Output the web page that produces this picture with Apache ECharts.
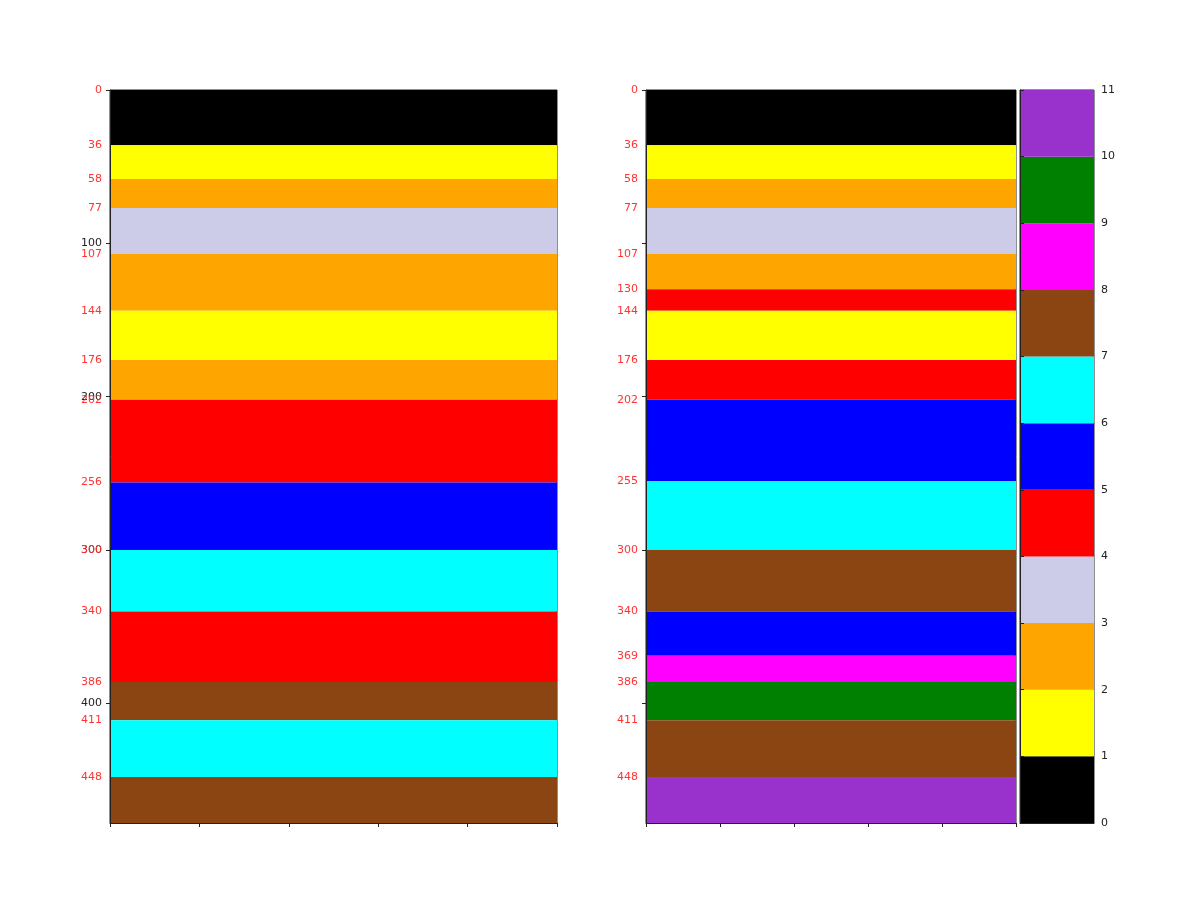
<!DOCTYPE html>
<html>
<head>
<meta charset="utf-8">
<script src="https://cdn.jsdelivr.net/npm/echarts@6/dist/echarts.min.js"></script>
<style>
  html, body { margin: 0; padding: 0; background: #fff; }
  #main { width: 1196px; height: 903px; }
</style>
</head>
<body>
<div id="main"></div>
<script>
// lithology colours, index = code on the colour bar
var codeColors = ['#000000', '#ffff00', '#ffa500', '#ccccE8', '#ff0000', '#0000ff',
                  '#00ffff', '#8b4513', '#ff00ff', '#008000', '#9932cc'];

// left log: layer boundaries (depth) and code of each layer
var leftDepths = [0, 36, 58, 77, 107, 144, 176, 202, 256, 300, 340, 386, 411, 448, 478];
var leftCodes = [0, 1, 2, 3, 2, 1, 2, 4, 5, 6, 4, 7, 6, 7];

// right log
var rightDepths = [0, 36, 58, 77, 107, 130, 144, 176, 202, 255, 300, 340, 369, 386, 411, 448, 478];
var rightCodes = [0, 1, 2, 3, 2, 4, 1, 4, 5, 6, 7, 5, 8, 9, 7, 10];

var maxDepth = 478;
var depthTicks = [0, 100, 200, 300, 400];
var depthTickLabels = [100, 200, 300, 400];

function layers(depths, codes) {
    var out = [];
    for (var i = 0; i < codes.length; i++) {
        out.push([depths[i], depths[i + 1], codes[i]]);
    }
    return out;
}

var colorbarData = [];
for (var i = 0; i < codeColors.length; i++) {
    colorbarData.push([i, i + 1, i]);
}

function renderBand(params, api) {
    var p1 = api.coord([0, api.value(0)]);
    var p2 = api.coord([5, api.value(1)]);
    var y = Math.min(p1[1], p2[1]);
    return {
        type: 'rect',
        shape: { x: p1[0], y: y, width: p2[0] - p1[0], height: Math.abs(p2[1] - p1[1]) },
        style: { fill: codeColors[api.value(2)] }
    };
}

var font = 'DejaVu Sans';
var spine = '#222';

function xAxisFor(gridIndex) {
    return {
        gridIndex: gridIndex, type: 'value', min: 0, max: 5, interval: 1,
        axisLine: { show: true, onZero: false, lineStyle: { color: spine } },
        axisTick: { show: gridIndex < 2, length: 4, lineStyle: { color: spine } },
        axisLabel: { show: false },
        splitLine: { show: false }
    };
}

function blackDepthAxis(gridIndex, showLabels) {
    return {
        gridIndex: gridIndex, type: 'value', inverse: true, min: 0, max: maxDepth,
        axisLine: { show: true, lineStyle: { color: spine } },
        axisTick: { show: true, length: 4, customValues: depthTicks, lineStyle: { color: spine } },
        axisLabel: { show: showLabels, customValues: depthTickLabels, color: '#222',
                     fontFamily: font, fontSize: 11, margin: 8 },
        splitLine: { show: false },
        z: 1
    };
}

function redDepthAxis(gridIndex, depths) {
    return {
        gridIndex: gridIndex, type: 'value', inverse: true, min: 0, max: maxDepth,
        position: 'left',
        axisLine: { show: false },
        axisTick: { show: false },
        axisLabel: { show: true, customValues: depths.slice(0, depths.length - 1), color: '#ff3333',
                     fontFamily: font, fontSize: 11, margin: 8 },
        splitLine: { show: false },
        z: 5
    };
}

var chart = echarts.init(document.getElementById('main'));

var option = {
    backgroundColor: '#fff',
    animation: false,
    grid: [
        { left: 110, top: 90, width: 447, height: 733, show: true, borderColor: spine, borderWidth: 1, backgroundColor: 'transparent' },
        { left: 646, top: 90, width: 370, height: 733, show: true, borderColor: spine, borderWidth: 1, backgroundColor: 'transparent' },
        { left: 1020, top: 90, width: 74, height: 733, show: true, borderColor: spine, borderWidth: 1, backgroundColor: 'transparent' }
    ],
    xAxis: [xAxisFor(0), xAxisFor(1), xAxisFor(2)],
    yAxis: [
        blackDepthAxis(0, true),
        redDepthAxis(0, leftDepths),
        blackDepthAxis(1, false),
        redDepthAxis(1, rightDepths),
        {
            gridIndex: 2, type: 'value', min: 0, max: 11, interval: 1, position: 'right',
            axisLine: { show: true, lineStyle: { color: spine } },
            axisTick: { show: true, inside: false, length: 4, lineStyle: { color: spine } },
            axisLabel: { color: '#222', fontFamily: font, fontSize: 11, margin: 7 },
            splitLine: { show: false }
        }
    ],
    series: [
        {
            type: 'custom', xAxisIndex: 0, yAxisIndex: 0,
            renderItem: renderBand, data: layers(leftDepths, leftCodes),
            encode: { y: [0, 1] }, z: 0
        },
        {
            type: 'custom', xAxisIndex: 1, yAxisIndex: 2,
            renderItem: renderBand, data: layers(rightDepths, rightCodes),
            encode: { y: [0, 1] }, z: 0
        },
        {
            type: 'custom', xAxisIndex: 2, yAxisIndex: 4,
            renderItem: renderBand, data: colorbarData,
            encode: { y: [0, 1] }, z: 0
        }
    ]
};

chart.setOption(option);
</script>
</body>
</html>
